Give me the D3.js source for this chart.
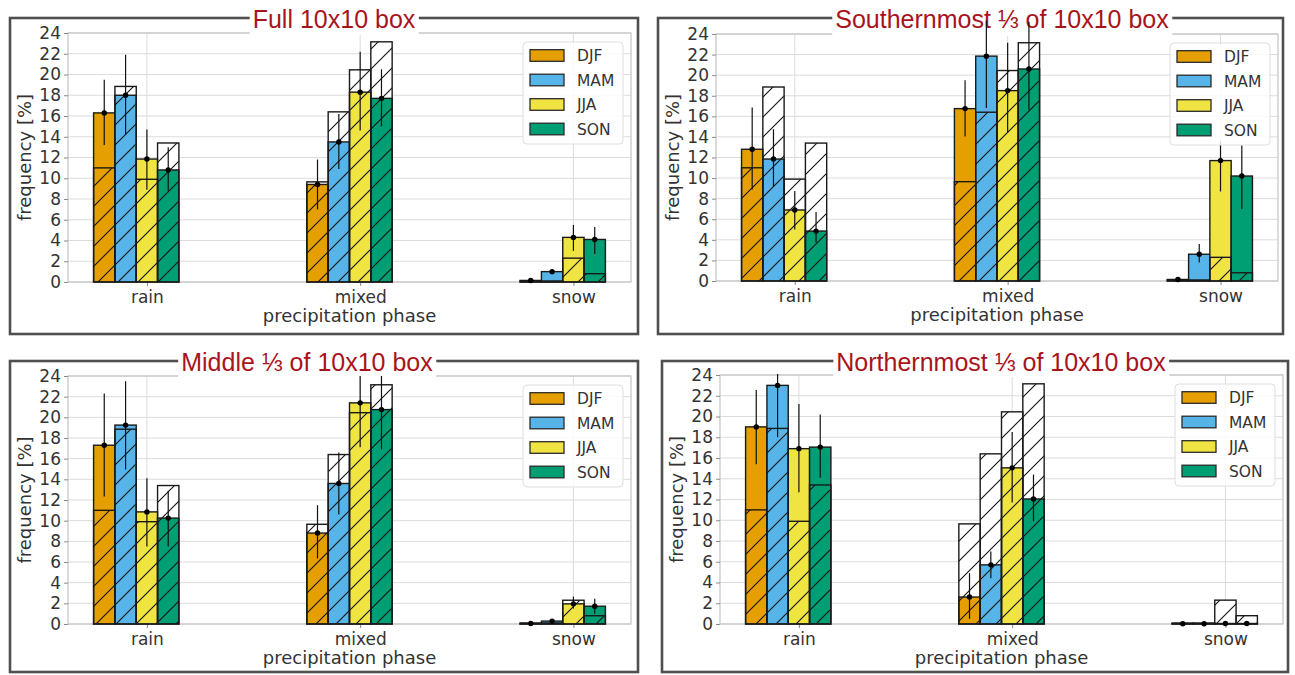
<!DOCTYPE html>
<html>
<head>
<meta charset="utf-8">
<script src="https://cdn.jsdelivr.net/npm/d3@7"></script>
<style>
  body { margin: 0; background: #fff; }
  svg { display: block; }
</style>
</head>
<body>
<svg id="fig" width="1295" height="675"></svg>
<script>
// ---- data -------------------------------------------------------------
const seasons = ["DJF", "MAM", "JJA", "SON"];
const phases = ["rain", "mixed", "snow"];
const seasonColors = ["#E69F00", "#56B4E9", "#F0E442", "#009E73"];
const yTicks = [0, 2, 4, 6, 8, 10, 12, 14, 16, 18, 20, 22, 24];
const panelTitles = [
  "Full 10x10 box",
  "Southernmost \u2153 of 10x10 box",
  "Middle \u2153 of 10x10 box",
  "Northernmost \u2153 of 10x10 box"
];

// values are ordered phase by phase (rain, mixed, snow), four seasons each
// reference frequencies of the whole box (hatched outline bars)
const refFreq = [11.0, 18.85, 9.9, 13.4,   9.65, 16.4, 20.45, 23.15,   0.1, 0.1, 2.3, 0.8];

const fullFreq = [16.3, 18.0, 11.85, 10.8,   9.4, 13.5, 18.3, 17.7,   0.15, 1.0, 4.3, 4.1];
const fullLow  = [13.2, 14.2, 8.9, 8.8,      7.0, 10.9, 14.6, 15.0,   0.05, 0.8, 3.0, 2.7];
const fullHigh = [19.5, 21.9, 14.7, 13.0,    11.8, 16.2, 22.2, 20.5,  0.25, 1.2, 5.5, 5.3];

const southFreq = [12.8, 11.85, 6.9, 4.85,   16.75, 21.85, 18.5, 20.6,  0.15, 2.6, 11.7, 10.2];
const southLow  = [8.9, 9.2, 5.0, 3.75,      14.05, 16.8, 14.4, 16.65,  0.05, 1.8, 8.7, 7.0];
const southHigh = [16.85, 14.75, 8.75, 6.7,  19.5, 25.3, 23.15, 25.2,   0.25, 3.6, 13.55, 13.2];

const middleFreq = [17.3, 19.25, 10.85, 10.25,  8.8, 13.6, 21.4, 20.75,  0.05, 0.28, 1.95, 1.72];
const middleLow  = [12.35, 14.95, 7.5, 7.5,     6.35, 10.6, 17.1, 16.9,  0.0, 0.15, 1.5, 1.0];
const middleHigh = [22.3, 23.5, 14.1, 12.9,     11.5, 16.6, 24.0, 24.0,  0.1, 0.4, 2.65, 2.45];

const northFreq = [19.0, 23.0, 16.9, 17.05,  2.6, 5.7, 15.05, 12.05,  0.03, 0.03, 0.05, 0.05];
const northLow  = [15.4, 18.0, 12.7, 14.1,   0.5, 4.4, 11.7, 9.9,     0.0, 0.0, 0.0, 0.0];
const northHigh = [22.55, 24.1, 21.2, 20.2,  4.9, 7.0, 18.5, 14.4,    0.1, 0.1, 0.1, 0.1];

// ---- layout -----------------------------------------------------------
const panels = [
  { title: panelTitles[0], freq: fullFreq,   low: fullLow,   high: fullHigh,
    frame: [10, 18, 638, 334],  axes: [68, 33, 631, 282],   titleX: 334 },
  { title: panelTitles[1], freq: southFreq,  low: southLow,  high: southHigh,
    frame: [658, 18, 1283, 334], axes: [716, 34, 1278, 281], titleX: 1002 },
  { title: panelTitles[2], freq: middleFreq, low: middleLow, high: middleHigh,
    frame: [10, 361, 638, 672], axes: [68, 376, 631, 624],  titleX: 307 },
  { title: panelTitles[3], freq: northFreq,  low: northLow,  high: northHigh,
    frame: [662, 361, 1288, 672], axes: [720, 375, 1283, 624], titleX: 1001 }
];

const barWidth = 0.1;
const FONT = "'DejaVu Sans', sans-serif";
const TEXT = "#333";

const svg = d3.select("#fig");
const defs = svg.append("defs");
defs.append("pattern")
  .attr("id", "hatch")
  .attr("patternUnits", "userSpaceOnUse")
  .attr("width", 20).attr("height", 20)
  .append("path")
  .attr("d", "M-5,5 L5,-5 M0,20 L20,0 M15,25 L25,15")
  .attr("stroke", "#111").attr("stroke-width", 1.1).attr("fill", "none");

panels.forEach((p, pi) => {
  const [fx0, fy0, fx1, fy1] = p.frame;
  const [ax0, ay0, ax1, ay1] = p.axes;
  const g = svg.append("g");

  const x = d3.scaleLinear().domain([-0.37, 2.27]).range([ax0, ax1]);
  const y = d3.scaleLinear().domain([0, 24]).range([ay1, ay0]);
  const bw = x(barWidth) - x(0);

  // panel frame
  g.append("rect")
    .attr("x", fx0).attr("y", fy0)
    .attr("width", fx1 - fx0).attr("height", fy1 - fy0)
    .attr("fill", "none").attr("stroke", "#4f4f4f").attr("stroke-width", 2.6);

  // grid
  const grid = g.append("g");
  grid.selectAll("line.hg").data(yTicks).join("line")
    .attr("x1", ax0).attr("x2", ax1)
    .attr("y1", d => y(d)).attr("y2", d => y(d))
    .attr("stroke", "#dcdcdc").attr("stroke-width", 1);
  grid.selectAll("line.vg").data(phases).join("line")
    .attr("x1", (d, i) => x(i)).attr("x2", (d, i) => x(i))
    .attr("y1", ay0).attr("y2", ay1)
    .attr("stroke", "#dcdcdc").attr("stroke-width", 1);

  // spines
  g.append("rect")
    .attr("x", ax0).attr("y", ay0).attr("width", ax1 - ax0).attr("height", ay1 - ay0)
    .attr("fill", "none").attr("stroke", "#c4c4c4").attr("stroke-width", 1.2);

  // axes with d3 axis generators (ticks + labels)
  const yAxis = d3.axisLeft(y).tickValues(yTicks).tickSize(4).tickPadding(3).tickFormat(d3.format("d"));
  const yg = g.append("g").attr("transform", `translate(${ax0},0)`).call(yAxis);
  const xAxis = d3.axisBottom(x).tickValues([0, 1, 2]).tickSize(4).tickPadding(5)
    .tickFormat((d) => phases[d]);
  const xg = g.append("g").attr("transform", `translate(0,${ay1})`).call(xAxis);
  [yg, xg].forEach(a => {
    a.select(".domain").remove();
    a.selectAll(".tick line").attr("stroke", "#8a8a8a");
    a.selectAll(".tick text").attr("fill", TEXT).attr("font-family", FONT).attr("font-size", 17);
  });

  // bar records
  const recs = [];
  phases.forEach((ph, k) => {
    seasons.forEach((s, j) => {
      const i = k * 4 + j;
      recs.push({ k, j, ref: refFreq[i], v: p.freq[i], lo: p.low[i], hi: p.high[i],
                  cx: x(k + (j - 2) * barWidth) });
    });
  });

  const bars = g.append("g");
  // white background of the reference bars
  bars.selectAll("rect.refbg").data(recs).join("rect")
    .attr("x", d => d.cx - bw / 2).attr("width", bw)
    .attr("y", d => y(d.ref)).attr("height", d => y(0) - y(d.ref))
    .attr("fill", "#fff");
  // seasonal bars
  bars.selectAll("rect.val").data(recs).join("rect")
    .attr("x", d => d.cx - bw / 2).attr("width", bw)
    .attr("y", d => y(d.v)).attr("height", d => y(0) - y(d.v))
    .attr("fill", d => seasonColors[d.j])
    .attr("stroke", "#1a1a1a").attr("stroke-width", 1.4);
  // hatched reference outline on top
  bars.selectAll("rect.ref").data(recs).join("rect")
    .attr("x", d => d.cx - bw / 2).attr("width", bw)
    .attr("y", d => y(d.ref)).attr("height", d => y(0) - y(d.ref))
    .attr("fill", "url(#hatch)")
    .attr("stroke", "#1a1a1a").attr("stroke-width", 1.4);

  // title over the frame
  const tt = g.append("text")
    .attr("x", p.titleX).attr("y", fy0 + 10)
    .attr("text-anchor", "middle")
    .attr("font-family", "'Liberation Sans', Arial, sans-serif")
    .attr("font-size", 25).attr("fill", "#a8141c")
    .text(p.title);
  const bb = tt.node().getBBox();
  g.insert("rect", () => tt.node())
    .attr("x", bb.x - 3).attr("y", fy0 - 12)
    .attr("width", bb.width + 6).attr("height", ay0 + 2 - (fy0 - 12))
    .attr("fill", "#fff");

  // error bars
  const err = g.append("g");
  err.selectAll("line").data(recs).join("line")
    .attr("x1", d => d.cx).attr("x2", d => d.cx)
    .attr("y1", d => y(d.lo)).attr("y2", d => y(d.hi))
    .attr("stroke", "#111").attr("stroke-width", 1.2);
  err.selectAll("circle").data(recs).join("circle")
    .attr("cx", d => d.cx).attr("cy", d => y(d.v)).attr("r", 2.7)
    .attr("fill", "#000");

  // legend
  const lw = 100, lh = 102;
  const lx = ax1 - 8 - lw, ly = ay0 + 9;
  const lg = g.append("g");
  lg.append("rect")
    .attr("x", lx).attr("y", ly).attr("width", lw).attr("height", lh)
    .attr("rx", 4).attr("fill", "#fff").attr("fill-opacity", 0.85)
    .attr("stroke", "#dedede").attr("stroke-width", 1);
  seasons.forEach((s, j) => {
    const cy = ly + 13.5 + j * 24.5;
    lg.append("rect")
      .attr("x", lx + 7).attr("y", cy - 5.8).attr("width", 34).attr("height", 11.6)
      .attr("fill", seasonColors[j]).attr("stroke", "#2a2a2a").attr("stroke-width", 1.3);
    lg.append("text")
      .attr("x", lx + 54).attr("y", cy).attr("dy", "0.36em")
      .attr("font-family", FONT).attr("font-size", 15.5).attr("fill", TEXT)
      .text(s);
  });

  // axis labels
  g.append("text")
    .attr("transform", `translate(${ax0 - 43},${(ay0 + ay1) / 2}) rotate(-90)`)
    .attr("text-anchor", "middle").attr("dy", "0.35em")
    .attr("font-family", FONT).attr("font-size", 18).attr("fill", TEXT)
    .text("frequency [%]");
  g.append("text")
    .attr("x", (ax0 + ax1) / 2).attr("y", ay1 + 40)
    .attr("text-anchor", "middle")
    .attr("font-family", FONT).attr("font-size", 18).attr("fill", TEXT)
    .text("precipitation phase");
});
</script>
</body>
</html>
